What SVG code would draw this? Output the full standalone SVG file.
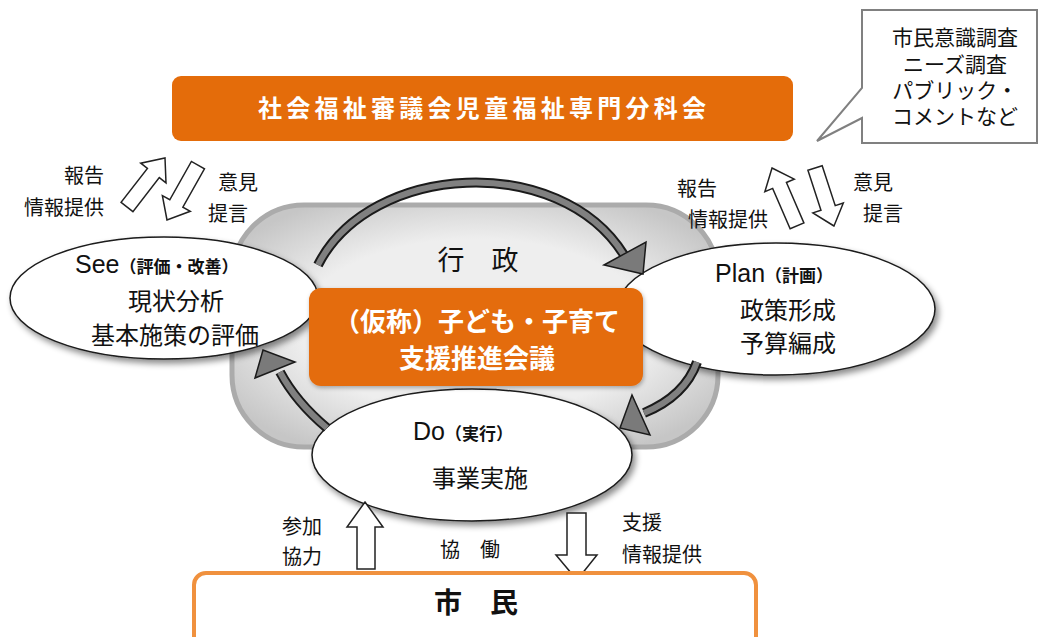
<svg xmlns="http://www.w3.org/2000/svg" width="1039" height="637" viewBox="0 0 1039 637">
<defs>
<style>
text{font-family:"Liberation Sans","Noto Sans CJK JP",sans-serif;fill:#111}
.lbl{font-size:20px}
.mid{text-anchor:middle}
.end{text-anchor:end}
.node{fill:#fff;stroke:#1a1a1a;stroke-width:1.5}
.wa{fill:#fff;stroke:#222;stroke-width:1.5;stroke-linejoin:miter}
.arcO{fill:none;stroke:#1a1a1a;stroke-width:10}
.arcI{fill:none;stroke:#808080;stroke-width:6}
.head{fill:#7a7a7a;stroke:#1a1a1a;stroke-width:1.5;stroke-linejoin:miter}
.orange{fill:#e46c0a}
.wt{fill:#fff;font-weight:bold}
</style>
<radialGradient id="bg" cx="0.5" cy="0.5" r="0.6">
<stop offset="0.6" stop-color="#eeeeee"/>
<stop offset="1" stop-color="#c6c6c6"/>
</radialGradient>
<filter id="sh" x="-10%" y="-10%" width="125%" height="135%">
<feDropShadow dx="3" dy="4" stdDeviation="3" flood-color="#000" flood-opacity="0.45"/>
</filter>
<filter id="sh2" x="-10%" y="-10%" width="125%" height="135%">
<feDropShadow dx="1" dy="2" stdDeviation="2" flood-color="#000" flood-opacity="0.3"/>
</filter>
</defs>
<rect width="1039" height="637" fill="#fff"/>

<g id="gyosei">
<rect x="232" y="205" width="486" height="242" rx="72" fill="url(#bg)" stroke="#ababab" stroke-width="5"/>
<text x="478" y="270" class="mid" style="font-size:27px">行　政</text>
</g>

<g id="council">
<rect x="172" y="76" width="621" height="65" rx="9" class="orange"/>
<text x="482" y="117" class="mid wt" style="font-size:24px" textLength="448" lengthAdjust="spacing">社会福祉審議会児童福祉専門分科会</text>
</g>

<g id="callout">
<path d="M862,10 H1037 V143 H862 V118 L817,141 L862,88 Z" fill="#fff" stroke="#808080" stroke-width="2"/>
<text x="955" y="45" class="mid" style="font-size:21px">市民意識調査</text>
<text x="955" y="72" class="mid" style="font-size:21px">ニーズ調査</text>
<text x="955" y="98" class="mid" style="font-size:21px">パブリック・</text>
<text x="955" y="124" class="mid" style="font-size:21px">コメントなど</text>
</g>

<g id="see">
<ellipse cx="164" cy="298" rx="154" ry="61" class="node" filter="url(#sh)"/>
<text x="75" y="273" style="font-size:25px">See<tspan style="font-size:17px;font-weight:bold">（評価・改善）</tspan></text>
<text x="176" y="310" class="mid" style="font-size:24px">現状分析</text>
<text x="175" y="344" class="mid" style="font-size:24px">基本施策の評価</text>
</g>

<g id="plan">
<ellipse cx="776" cy="309" rx="159" ry="66" class="node" filter="url(#sh)"/>
<text x="715" y="282" style="font-size:25px">Plan<tspan style="font-size:17px;font-weight:bold">（計画）</tspan></text>
<text x="788" y="319" class="mid" style="font-size:24px">政策形成</text>
<text x="788" y="352" class="mid" style="font-size:24px">予算編成</text>
</g>

<g id="do">
<ellipse cx="472" cy="455" rx="160" ry="66" class="node" filter="url(#sh)"/>
<text x="413" y="440" style="font-size:25px">Do<tspan style="font-size:17px;font-weight:bold">（実行）</tspan></text>
<text x="480" y="487" class="mid" style="font-size:24px">事業実施</text>
</g>

<g id="connectors">
<path d="M318,265 C370,162 560,152 624,255" class="arcO"/>
<path d="M318,265 C370,162 560,152 624,255" class="arcI"/>
<polygon points="604,265 646,242 643,274" class="head"/>
<path d="M697,362 Q685,396 644,413" class="arcO"/>
<path d="M697,362 Q685,396 644,413" class="arcI"/>
<polygon points="632,395 650,435 620,428" class="head"/>
<path d="M327,428 Q296,402 280,372" class="arcO"/>
<path d="M327,428 Q296,402 280,372" class="arcI"/>
<polygon points="255,378 295,362 263,350" class="head"/>

<polygon transform="translate(165,158) rotate(37.8)" points="0,0 16,19 7.5,19 7.5,62 -7.5,62 -7.5,19 -16,19" class="wa"/>
<polygon transform="translate(167,220) rotate(209.4)" points="0,0 16,19 7.5,19 7.5,63 -7.5,63 -7.5,19 -16,19" class="wa"/>
<polygon transform="translate(772,168) rotate(-23.4)" points="0,0 16,19 7.5,19 7.5,63 -7.5,63 -7.5,19 -16,19" class="wa"/>
<polygon transform="translate(834,226) rotate(161.9)" points="0,0 16,19 7.5,19 7.5,61 -7.5,61 -7.5,19 -16,19" class="wa"/>

<polygon points="365,502 383,527 375,527 375,569 357,569 357,527 347,527" class="wa"/>
<polygon points="567,513 586,513 586,555 597,555 577,580 556,555 567,555" class="wa"/>
</g>

<g id="labels">
<text x="104" y="183" class="lbl end">報告</text>
<text x="104" y="215" class="lbl end">情報提供</text>
<text x="218" y="190" class="lbl">意見</text>
<text x="208" y="221" class="lbl">提言</text>
<text x="677" y="196" class="lbl">報告</text>
<text x="688" y="227" class="lbl">情報提供</text>
<text x="853" y="190" class="lbl">意見</text>
<text x="863" y="221" class="lbl">提言</text>
<text x="282" y="534" class="lbl">参加</text>
<text x="282" y="564" class="lbl">協力</text>
<text x="470" y="557" class="lbl mid">協　働</text>
<text x="622" y="530" class="lbl">支援</text>
<text x="622" y="562" class="lbl">情報提供</text>
</g>

<g id="center">
<rect x="309" y="288" width="334" height="98" rx="12" class="orange" filter="url(#sh2)"/>
<text x="477" y="331" class="mid wt" style="font-size:26px">（仮称）子ども・子育て</text>
<text x="477" y="368" class="mid wt" style="font-size:26px">支援推進会議</text>
</g>

<g id="citizens">
<rect x="194" y="573" width="562" height="80" rx="12" fill="#fff" stroke="#f0913e" stroke-width="4"/>
<text x="476" y="613" class="mid" style="font-size:28px;font-weight:bold">市　民</text>
</g>
</svg>
